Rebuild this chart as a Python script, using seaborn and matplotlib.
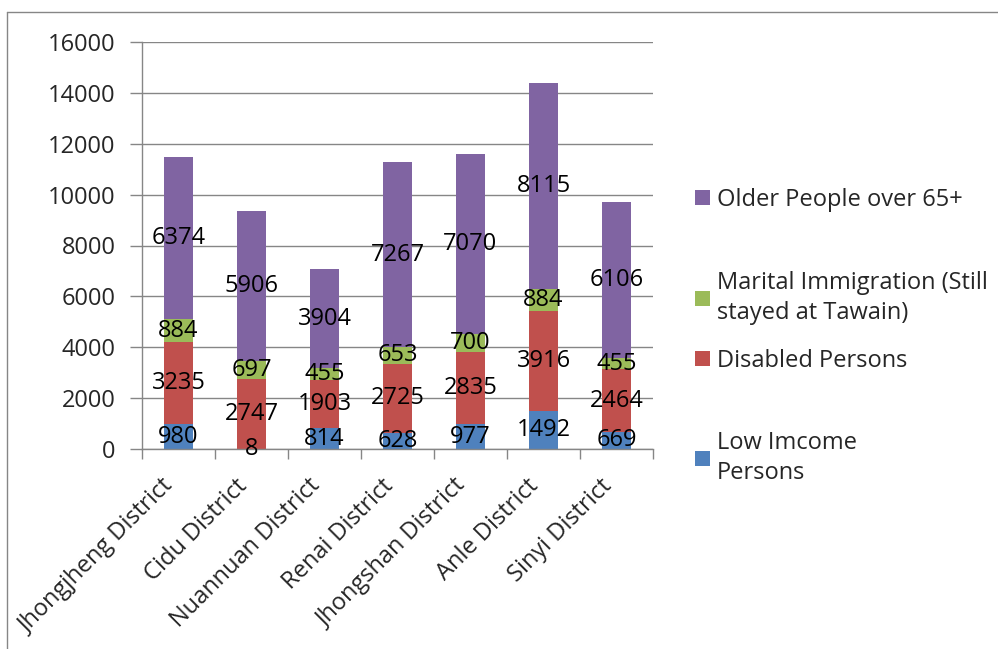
import numpy as np
import pandas as pd
import matplotlib
matplotlib.use("Agg")
import matplotlib.pyplot as plt
import matplotlib.transforms as mtransforms
from matplotlib.patches import Patch
from matplotlib.lines import Line2D
import seaborn as sns

districts = ["Jhongjheng District", "Cidu District", "Nuannuan District", "Renai District",
             "Jhongshan District", "Anle District", "Sinyi District"]
low_income = [980, 8, 814, 628, 977, 1492, 669]
disabled = [3235, 2747, 1903, 2725, 2835, 3916, 2464]
marital = [884, 697, 455, 653, 700, 884, 455]
older = [6374, 5906, 3904, 7267, 7070, 8115, 6106]

series_names = ["Low Imcome\nPersons", "Disabled Persons",
                "Marital Immigration (Still\nstayed at Tawain)", "Older People over 65+"]
series_values = [low_income, disabled, marital, older]
series_colors = ["#4F81BD", "#C0504D", "#9BBB59", "#8064A2"]

sns.set_theme(style="white")
plt.rcParams["font.family"] = ["Open Sans", "DejaVu Sans"]
FS = 17
grey = "#868686"

fig = plt.figure(figsize=(9.98, 6.49), dpi=100)
W, H = 998, 649
ax = fig.add_axes([142 / W, 1 - 449 / H, (653 - 142) / W, (449 - 42) / H])

bottom = np.zeros(len(districts))
for name, vals, col in zip(series_names, series_values, series_colors):
    df = pd.DataFrame({"district": districts, "value": vals})
    sns.barplot(data=df, x="district", y="value", color=col, width=0.41,
                bottom=bottom, ax=ax, saturation=1, linewidth=0, edgecolor="none")
    cont = ax.containers[-1]
    ax.bar_label(cont, labels=[str(v) for v in vals], label_type="center",
                 fontsize=FS, color="black")
    bottom = bottom + np.array(vals)

ax.set_ylim(0, 16000)
ax.set_xlim(-0.5, len(districts) - 0.5)
ax.set_yticks(np.arange(0, 16001, 2000))
ax.set_yticklabels([str(v) for v in range(0, 16001, 2000)], fontsize=FS)
ax.yaxis.grid(True, color=grey, linewidth=1)
ax.set_axisbelow(True)
ax.tick_params(axis="y", which="major", direction="out", length=9, color=grey, width=1, pad=10, left=True)

ax.set_xticks(range(len(districts)))
ax.set_xticklabels(districts, rotation=45, ha="right", va="top", rotation_mode="anchor", fontsize=FS)
ax.set_xticks(np.arange(-0.5, len(districts), 1), minor=True)
ax.tick_params(axis="x", which="major", length=0, pad=18)
ax.tick_params(axis="x", which="minor", direction="out", length=7, color=grey, width=1, bottom=True)
shift = mtransforms.ScaledTranslation(-12 / 72, 0, fig.dpi_scale_trans)
for lbl in ax.get_xticklabels():
    lbl.set_transform(lbl.get_transform() + shift)
ax.set_xlabel("")
ax.set_ylabel("")

for s in ["top", "right"]:
    ax.spines[s].set_visible(False)
for s in ["left", "bottom"]:
    ax.spines[s].set_color(grey)
    ax.spines[s].set_linewidth(1)

# legend entries, top to bottom in reverse stacking order
legend_tops = [188, 271, 349, 431]
for (name, col), top in zip(list(zip(series_names, series_colors))[::-1], legend_tops):
    leg = fig.legend(handles=[Patch(facecolor=col, edgecolor="none")], labels=[name],
                     loc="upper left", bbox_to_anchor=(695 / W, 1 - top / H),
                     frameon=False, fontsize=FS, handlelength=0.62, handleheight=0.62,
                     handletextpad=0.3, borderaxespad=0, borderpad=0)
    for t in leg.get_texts():
        t.set_linespacing(1.35)

# chart frame
fig.add_artist(Line2D([7 / W, 7 / W], [0, 1 - 12 / H], transform=fig.transFigure, color=grey, lw=1))
fig.add_artist(Line2D([7 / W, 1], [1 - 12 / H, 1 - 12 / H], transform=fig.transFigure, color=grey, lw=1))

fig.savefig("out.png", dpi=100, facecolor="white")
